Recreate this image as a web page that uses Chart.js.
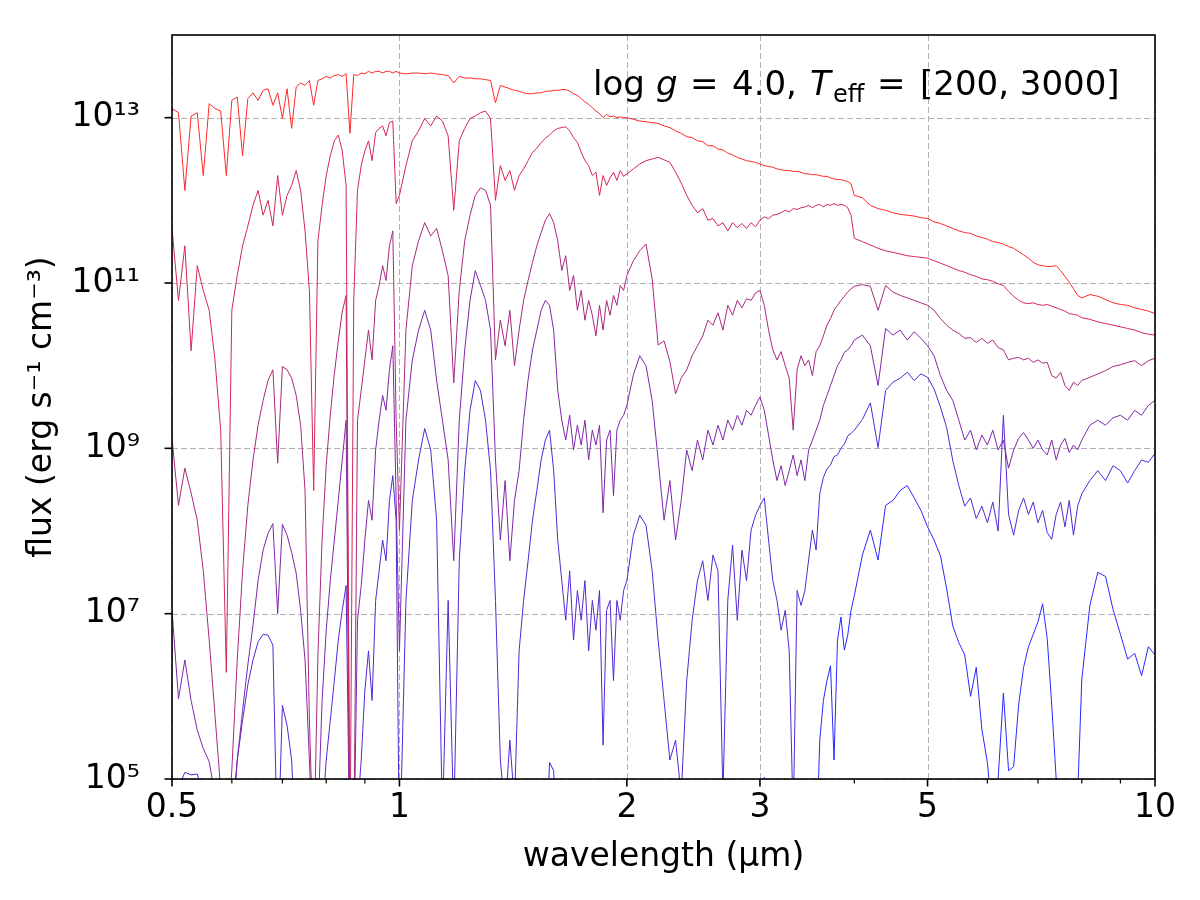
<!DOCTYPE html>
<html>
<head>
<meta charset="utf-8">
<script src="https://cdn.jsdelivr.net/npm/chart.js@4.4.1/dist/chart.umd.min.js"></script>
<style>html,body{margin:0;padding:0;background:#fff;}canvas{display:block;}</style>
</head>
<body>
<canvas id="c" width="1200" height="900"></canvas>
<script>
// ---------------- data ----------------
// wavelength grid in micrometres
const wavelength = [
0.50,0.51,0.52,0.53,0.54,0.55,0.56,0.57,0.58,0.59,
0.60,0.61,0.62,0.63,0.64,0.65,0.66,0.67,0.68,0.69,
0.70,0.71,0.72,0.73,0.74,0.75,0.76,0.77,0.78,0.79,
0.80,0.81,0.82,0.83,0.84,0.85,0.86,0.87,0.88,0.89,
0.90,0.91,0.92,0.93,0.94,0.95,0.96,0.97,0.98,0.99,
1.00,1.02,1.04,1.06,1.08,1.10,1.12,1.14,1.16,1.18,
1.20,1.22,1.24,1.26,1.28,1.30,1.32,1.34,1.36,1.38,
1.40,1.42,1.44,1.46,1.48,1.50,1.52,1.54,1.56,1.58,
1.60,1.62,1.64,1.66,1.68,1.70,1.72,1.74,1.76,1.78,
1.80,1.82,1.84,1.86,1.88,1.90,1.92,1.94,1.96,1.98,
2.00,2.04,2.08,2.12,2.16,2.20,2.24,2.28,2.32,2.36,
2.40,2.44,2.48,2.52,2.56,2.60,2.64,2.68,2.72,2.76,
2.80,2.84,2.88,2.92,2.96,3.00,3.04,3.08,3.12,3.16,
3.20,3.24,3.28,3.32,3.36,3.40,3.44,3.48,3.52,3.56,
3.60,3.64,3.68,3.72,3.76,3.80,3.84,3.88,3.92,3.96,
4.00,4.1,4.2,4.3,4.4,4.5,4.6,4.7,4.8,4.9,
5.0,5.1,5.2,5.3,5.4,5.5,5.6,5.7,5.8,5.9,
6.0,6.1,6.2,6.3,6.4,6.5,6.6,6.7,6.8,6.9,
7.0,7.1,7.2,7.3,7.4,7.5,7.6,7.7,7.8,7.9,
8.0,8.2,8.4,8.6,8.8,9.0,9.2,9.4,9.6,9.8,
10.0];

// log10 of flux (erg s^-1 cm^-3), hottest (red) to coolest (blue)
const logFlux1 = [
13.11,13.06,12.12,13.02,13.06,12.30,13.17,13.11,13.08,12.30,
13.21,13.25,12.54,13.23,13.30,13.21,13.33,13.35,13.15,13.30,
12.99,13.35,12.87,13.37,13.42,13.39,13.45,13.15,13.45,13.47,
13.50,13.48,13.51,13.52,13.50,13.53,12.81,13.52,13.51,13.54,
13.53,13.56,13.54,13.56,13.56,13.54,13.56,13.56,13.54,13.56,
13.54,13.53,13.54,13.54,13.53,13.54,13.53,13.52,13.51,13.42,
13.50,13.48,13.48,13.47,13.47,13.46,13.45,13.18,13.39,13.37,
13.35,13.33,13.32,13.30,13.29,13.29,13.30,13.30,13.32,13.32,
13.33,13.33,13.34,13.34,13.32,13.29,13.27,13.23,13.19,13.16,
13.12,13.08,13.05,13.00,13.04,13.01,13.02,13.00,13.01,13.00,
13.00,12.98,12.96,12.95,12.94,12.93,12.90,12.88,12.84,12.81,
12.77,12.76,12.72,12.71,12.66,12.66,12.62,12.61,12.57,12.55,
12.52,12.50,12.48,12.47,12.46,12.44,12.42,12.41,12.40,12.38,
12.37,12.36,12.36,12.35,12.35,12.34,12.32,12.32,12.31,12.31,
12.30,12.29,12.29,12.27,12.26,12.25,12.25,12.24,12.23,12.20,
12.06,12.03,11.94,11.90,11.88,11.85,11.83,11.82,11.81,11.79,
11.78,11.74,11.72,11.69,11.66,11.63,11.61,11.60,11.57,11.55,
11.53,11.50,11.49,11.47,11.44,11.42,11.38,11.34,11.30,11.25,
11.22,11.21,11.20,11.20,11.21,11.15,11.08,11.01,10.93,10.85,
10.82,10.86,10.84,10.80,10.76,10.74,10.73,10.70,10.68,10.66,
10.63];

const logFlux2 = [
11.66,10.79,11.45,10.18,11.21,10.91,10.67,10.07,9.22,6.29,
10.67,11.09,11.45,11.69,11.94,12.12,11.82,12.00,11.69,12.30,
11.82,12.06,12.18,12.36,12.12,11.63,10.91,8.49,11.51,11.94,
12.30,12.54,12.72,12.79,12.60,12.18,4.0,10.79,12.12,12.42,
12.60,12.72,12.48,12.82,12.87,12.90,12.78,12.94,12.96,11.96,
12.06,12.42,12.72,12.84,12.99,12.90,13.02,12.96,12.78,11.88,
12.72,12.87,12.99,13.02,13.06,13.08,12.99,12.00,12.42,12.24,
12.36,12.12,12.30,12.38,12.48,12.58,12.63,12.70,12.75,12.79,
12.84,12.87,12.88,12.89,12.84,12.76,12.70,12.58,12.48,12.42,
12.30,12.34,12.06,12.30,12.18,12.27,12.34,12.24,12.36,12.29,
12.32,12.38,12.44,12.48,12.50,12.52,12.49,12.46,12.34,12.21,
12.06,11.94,11.85,11.90,11.76,11.78,11.69,11.73,11.63,11.73,
11.67,11.72,11.66,11.73,11.68,11.76,11.80,11.78,11.82,11.83,
11.85,11.88,11.86,11.90,11.89,11.91,11.92,11.94,11.91,11.94,
11.95,11.92,11.95,11.94,11.96,11.94,11.95,11.94,11.91,11.82,
11.54,11.50,11.46,11.42,11.39,11.37,11.35,11.33,11.32,11.31,
11.30,11.27,11.24,11.21,11.18,11.15,11.13,11.10,11.08,11.05,
11.04,11.02,10.99,10.97,10.90,10.84,10.79,10.76,10.75,10.76,
10.74,10.73,10.74,10.72,10.70,10.68,10.66,10.63,10.62,10.61,
10.58,10.56,10.53,10.51,10.49,10.47,10.45,10.43,10.40,10.38,
10.37];

const logFlux3 = [
9.12,8.31,8.76,8.46,8.13,7.52,6.68,5.77,4.87,4.0,
5.11,6.44,7.52,8.31,8.86,9.28,9.58,9.82,9.95,8.82,
9.99,9.95,9.85,9.64,9.28,8.49,5.71,4.0,6.5,7.9,
8.8,9.4,9.9,10.3,10.65,10.85,4.0,4.0,9.34,9.70,
10.07,10.43,10.07,10.79,10.97,11.21,11.03,11.45,11.63,9.34,
8.01,10.43,11.21,11.51,11.73,11.57,11.66,11.39,11.09,9.79,
10.91,11.51,11.82,12.06,12.15,12.12,11.94,10.07,10.55,10.24,
10.67,10.00,10.43,10.79,11.03,11.25,11.45,11.61,11.76,11.84,
11.73,11.51,11.15,11.33,10.91,11.09,10.67,10.91,10.55,10.79,
10.61,10.36,10.73,10.43,10.79,10.61,10.85,10.73,10.97,10.91,
11.09,11.27,11.39,11.47,11.05,10.25,10.30,10.05,9.66,9.85,
9.95,10.12,10.24,10.36,10.55,10.49,10.64,10.43,10.73,10.61,
10.79,10.70,10.81,10.79,10.88,10.91,10.73,10.43,10.19,10.07,
10.17,10.00,9.85,9.22,9.95,10.12,10.00,10.07,9.88,10.17,
10.24,10.36,10.49,10.57,10.67,10.73,10.79,10.84,10.89,10.93,
10.96,10.98,10.96,10.67,10.97,10.89,10.85,10.82,10.79,10.76,
10.73,10.67,10.57,10.49,10.43,10.39,10.33,10.34,10.28,10.33,
10.27,10.31,10.22,10.19,10.07,10.09,10.10,10.07,10.09,10.04,
10.07,10.03,10.04,9.88,9.85,9.92,9.76,9.70,9.80,9.76,
9.82,9.86,9.90,9.94,9.99,10.01,10.04,10.06,10.00,10.06,
10.09];

const logFlux4 = [
7.04,5.97,6.44,5.95,5.59,5.37,5.21,4.8,4.0,4.0,
4.3,5.23,5.83,6.38,6.86,7.40,7.77,7.97,8.09,7.00,
8.08,7.95,7.74,7.49,7.04,6.44,5.23,4.0,4.5,5.95,
6.80,7.40,7.89,8.37,8.86,9.34,4.0,4.0,6.92,7.34,
7.89,8.37,8.13,8.98,9.34,9.64,9.46,9.95,10.24,8.37,
6.55,9.34,10.07,10.43,10.67,10.43,9.82,9.34,8.86,7.64,
9.34,10.19,10.79,11.15,10.97,10.79,10.43,8.86,7.89,8.61,
7.64,8.37,8.73,9.34,9.83,10.19,10.43,10.67,10.79,10.73,
10.43,9.70,9.34,9.10,9.40,8.98,9.28,9.04,9.34,8.86,
9.22,9.04,9.28,8.22,9.10,9.22,8.43,9.22,9.34,9.40,
9.52,9.89,10.12,10.00,9.58,8.86,8.13,8.61,7.89,8.37,
8.98,8.73,9.10,8.86,9.22,9.04,9.28,9.10,9.34,9.22,
9.40,9.28,9.46,9.40,9.52,9.62,9.46,9.16,8.86,8.61,
8.79,8.55,8.73,8.92,8.67,8.86,8.61,8.98,9.10,9.22,
9.34,9.52,9.64,9.76,9.88,10.00,10.07,10.16,10.19,10.24,
10.31,10.37,10.24,9.76,10.45,10.37,10.43,10.31,10.41,10.33,
10.24,10.12,9.88,9.70,9.58,9.34,9.10,9.22,8.98,9.16,
9.04,9.22,8.98,9.10,8.76,8.98,9.12,9.19,9.10,9.00,
9.10,8.98,8.92,9.10,8.86,9.04,9.12,8.95,9.04,8.98,
9.10,9.28,9.34,9.28,9.37,9.40,9.34,9.46,9.40,9.52,
9.58];

const logFlux5 = [
4.6,4.9,5.08,5.05,5.06,4.8,4.0,4.0,4.0,4.0,
4.5,5.23,5.71,6.14,6.44,6.66,6.75,6.74,6.62,4.0,
5.89,5.65,5.23,4.0,4.0,4.0,4.0,4.0,4.0,4.5,
5.23,5.71,6.19,6.68,7.04,7.34,4.0,4.0,4.6,5.23,
6.07,6.55,5.95,7.16,7.52,7.89,7.64,8.37,8.67,8.13,
4.0,7.16,8.37,8.86,9.24,8.98,8.13,4.5,7.16,4.5,
7.64,8.73,9.46,9.82,9.70,9.34,8.73,7.16,5.23,4.6,
5.47,4.7,6.55,7.16,7.64,8.13,8.49,8.86,9.10,9.22,
8.73,7.89,7.40,6.92,7.52,6.68,7.28,6.92,7.40,6.55,
7.16,6.80,7.28,5.41,7.04,7.16,6.19,7.16,6.92,7.28,
7.40,7.95,8.19,8.07,7.52,6.68,5.95,5.23,5.47,4.8,
6.19,6.92,7.40,7.64,7.16,7.71,7.52,4.8,7.16,7.83,
6.92,7.77,7.40,8.01,8.19,8.31,8.40,7.89,7.40,7.16,
6.80,7.04,6.55,4.5,7.28,7.10,7.28,7.65,8.01,7.77,
8.45,8.65,8.75,8.80,8.90,8.92,9.00,9.05,9.15,9.18,
9.22,9.35,9.55,9.01,9.70,9.80,9.85,9.92,9.82,9.90,
9.86,9.72,9.50,9.25,8.85,8.55,8.30,8.40,8.15,8.30,
8.10,8.35,8.00,9.40,8.20,7.95,8.25,8.40,8.20,8.35,
8.10,8.25,7.98,7.90,8.20,8.35,8.05,8.37,7.95,8.30,
8.45,8.61,8.73,8.61,8.79,8.73,8.58,8.73,8.86,8.83,
8.94];

const logFlux6 = [
4.0,4.0,4.0,4.0,4.0,4.0,4.0,4.0,4.0,4.0,
4.0,4.0,4.0,4.0,4.0,4.0,4.0,4.0,4.0,4.0,
4.0,4.0,4.0,4.0,4.0,4.0,4.0,4.0,4.0,4.0,
4.0,4.0,4.0,4.0,4.0,4.0,4.0,4.0,4.0,4.0,
4.0,4.0,4.0,4.0,4.0,4.0,4.0,4.0,4.0,4.0,
4.0,4.0,4.0,4.0,4.0,4.0,4.0,4.0,4.0,4.0,
4.0,4.0,4.0,4.0,4.0,4.0,4.0,4.0,4.0,4.0,
4.0,4.0,4.0,4.0,4.0,4.0,4.0,4.0,4.0,5.2,
5.1,4.0,4.0,4.0,4.0,4.0,4.0,4.0,4.0,4.0,
4.0,4.0,4.0,4.0,4.0,4.0,4.0,4.0,4.0,4.0,
4.0,4.0,4.0,4.0,4.0,4.0,4.0,4.0,4.0,4.0,
4.0,4.0,4.0,4.0,4.0,4.0,4.0,4.0,4.0,4.0,
4.0,4.0,4.0,4.0,4.0,4.0,5.02,4.0,4.0,4.0,
4.0,4.0,4.0,4.0,4.0,4.0,4.0,4.0,4.0,4.0,
5.47,5.95,6.19,6.37,5.23,6.68,6.96,6.56,6.74,7.04,
7.22,7.71,8.01,7.65,8.31,8.37,8.49,8.55,8.40,8.25,
8.05,7.89,7.70,7.30,6.85,6.65,6.50,6.00,6.35,5.60,
5.20,4.50,5.00,6.04,5.10,5.15,5.90,6.35,6.60,6.75,
6.90,7.12,6.70,5.90,5.00,4.0,4.0,4.0,4.0,4.8,
6.2,7.10,7.50,7.45,7.05,6.75,6.45,6.52,6.25,6.60,
6.50];

const seriesLabels = ['spectrum 1','spectrum 2','spectrum 3','spectrum 4','spectrum 5','spectrum 6'];
const lineColors = ['rgb(255,40,40)','rgb(212,40,83)','rgb(169,40,126)','rgb(126,40,169)','rgb(83,40,212)','rgb(40,40,255)'];

const xTickValues = [0.5, 1, 2, 3, 5, 10];
const xTickLabels = ['0.5', '1', '2', '3', '5', '10'];
const xMinorTicks = [0.6, 0.7, 0.8, 0.9, 4, 6, 7, 8, 9];
const yTickValues = [1e5, 1e7, 1e9, 1e11, 1e13];
const yTickLabels = ['10\u2075', '10\u2077', '10\u2079', '10\u00B9\u00B9', '10\u00B9\u00B3'];

// ---------------- chart ----------------
const FONT = "'DejaVu Sans', sans-serif";
const allSeries = [logFlux1, logFlux2, logFlux3, logFlux4, logFlux5, logFlux6];

const datasets = allSeries.map((vals, i) => ({
  label: seriesLabels[i],
  data: wavelength.map((w, k) => ({x: w, y: Math.pow(10, vals[k])})),
  borderColor: lineColors[i],
  backgroundColor: lineColors[i],
  borderWidth: 1,
  pointRadius: 0,
  pointHoverRadius: 0,
  showLine: true,
  fill: false,
  tension: 0,
  borderJoinStyle: 'round',
  borderCapStyle: 'butt'
}));

const decorPlugin = {
  id: 'decor',
  beforeDatasetsDraw(chart) {
    const {ctx, chartArea: a, scales: {x, y}} = chart;
    ctx.save();
    ctx.strokeStyle = '#b0b0b0';
    ctx.lineWidth = 1;
    ctx.setLineDash([6, 3]);
    xTickValues.forEach(v => {
      const px = Math.round(x.getPixelForValue(v)) + 0.5;
      ctx.beginPath(); ctx.moveTo(px, a.top); ctx.lineTo(px, a.bottom); ctx.stroke();
    });
    yTickValues.forEach(v => {
      const py = Math.round(y.getPixelForValue(v)) + 0.5;
      ctx.beginPath(); ctx.moveTo(a.left, py); ctx.lineTo(a.right, py); ctx.stroke();
    });
    ctx.restore();
  },
  afterDatasetsDraw(chart) {
    const {ctx, chartArea: a, scales: {x, y}} = chart;
    ctx.save();
    ctx.setLineDash([]);
    ctx.strokeStyle = '#000';
    // frame
    ctx.lineWidth = 1.6;
    ctx.strokeRect(a.left, a.top, a.right - a.left, a.bottom - a.top);
    // major ticks
    xTickValues.forEach(v => {
      const px = x.getPixelForValue(v);
      ctx.beginPath(); ctx.moveTo(px, a.bottom); ctx.lineTo(px, a.bottom + 7.5); ctx.stroke();
    });
    yTickValues.forEach(v => {
      const py = y.getPixelForValue(v);
      ctx.beginPath(); ctx.moveTo(a.left, py); ctx.lineTo(a.left - 7.5, py); ctx.stroke();
    });
    // minor ticks
    ctx.lineWidth = 1.2;
    xMinorTicks.forEach(v => {
      const px = x.getPixelForValue(v);
      ctx.beginPath(); ctx.moveTo(px, a.bottom); ctx.lineTo(px, a.bottom + 4.5); ctx.stroke();
    });
    // annotation text
    ctx.fillStyle = '#000';
    ctx.textAlign = 'left';
    ctx.textBaseline = 'alphabetic';
    const base = 95;
    const pieces = [
      ['log', 593, base, `34px ${FONT}`],
      ['g', 656, base, `italic 34px ${FONT}`],
      ['=', 690, base, `34px ${FONT}`],
      ['4.0,', 732, base, `34px ${FONT}`],
      ['T', 810, base, `italic 34px ${FONT}`],
      ['eff', 833, base + 7, `24px ${FONT}`],
      ['=', 877, base, `34px ${FONT}`],
      ['[200, 3000]', 920, base, `34px ${FONT}`]
    ];
    pieces.forEach(([t, px, py, f]) => { ctx.font = f; ctx.fillText(t, px, py); });
    ctx.restore();
  }
};

new Chart(document.getElementById('c'), {
  type: 'scatter',
  data: {datasets},
  plugins: [decorPlugin],
  options: {
    responsive: false,
    animation: false,
    devicePixelRatio: 1,
    layout: {padding: {top: 35, right: 45, left: 0, bottom: 0}},
    plugins: {legend: {display: false}, tooltip: {enabled: false}},
    events: [],
    scales: {
      x: {
        type: 'logarithmic',
        position: 'bottom',
        min: 0.5,
        max: 10,
        grid: {display: false},
        border: {display: false},
        afterBuildTicks: s => { s.ticks = xTickValues.map(v => ({value: v})); },
        afterFit: s => { s.height = 121; s.paddingLeft = 0; s.paddingRight = 0; },
        ticks: {
          autoSkip: false, maxRotation: 0, minRotation: 0, padding: 2,
          color: '#000', font: {family: FONT, size: 33},
          callback: (v, i) => xTickLabels[i]
        },
        title: {display: true, text: 'wavelength (\u03BCm)', color: '#000',
          font: {family: FONT, size: 33}, padding: {top: 0, bottom: 23}}
      },
      y: {
        type: 'logarithmic',
        position: 'left',
        min: 1e5,
        max: 1e14,
        grid: {display: false},
        border: {display: false},
        afterBuildTicks: s => { s.ticks = yTickValues.map(v => ({value: v})); },
        afterFit: s => { s.width = 172; s.paddingTop = 0; s.paddingBottom = 0; },
        ticks: {
          autoSkip: false, padding: 24,
          color: '#000', font: {family: FONT, size: 33},
          callback: (v, i) => yTickLabels[i]
        },
        title: {display: true, text: 'flux (erg s\u207B\u00B9 cm\u207B\u00B3)', color: '#000',
          font: {family: FONT, size: 33}, padding: {top: 23, bottom: 0}}
      }
    }
  }
});
</script>
</body>
</html>
